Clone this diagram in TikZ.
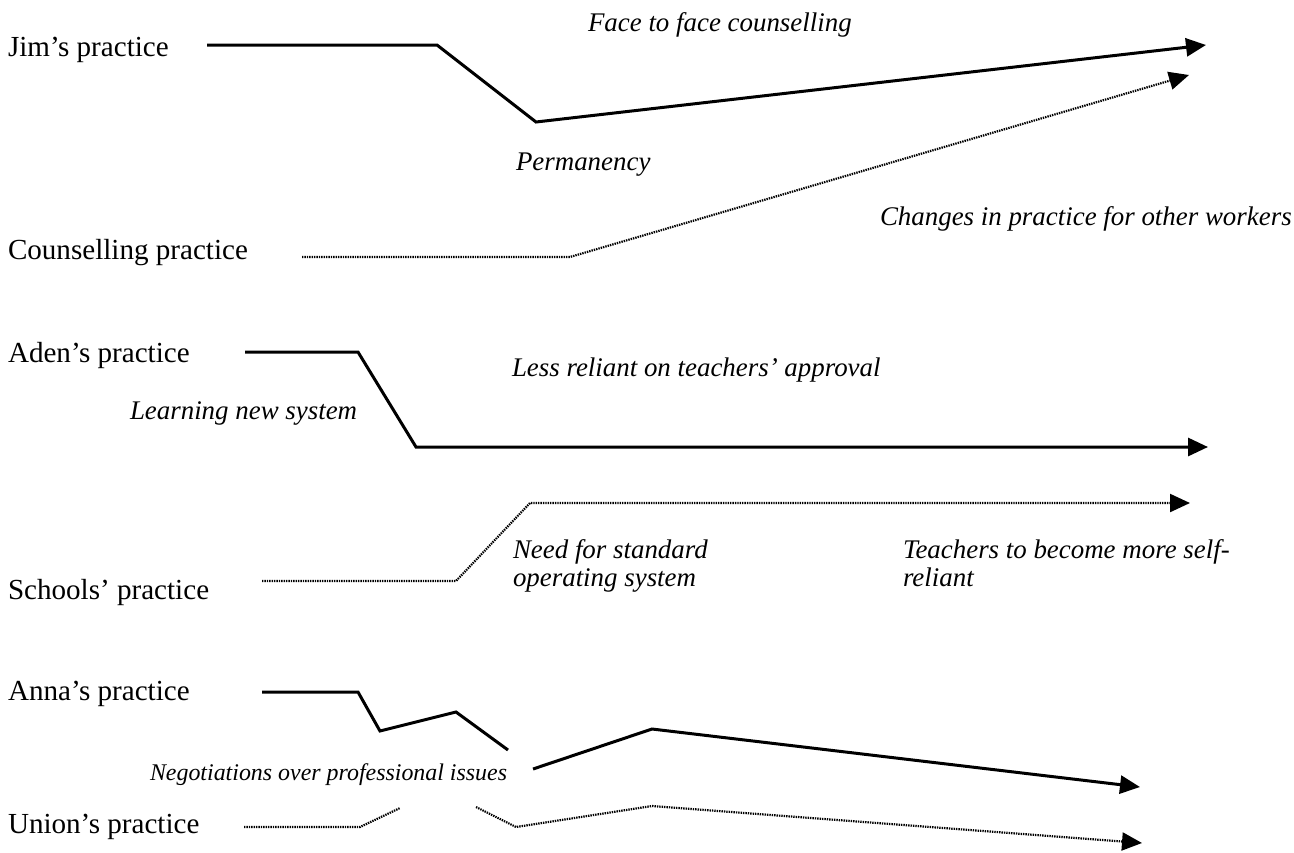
\documentclass[tikz,border=0pt]{standalone}
\usepackage{fontspec}
\setmainfont{Liberation Serif}
\usepackage{tikz}
\usetikzlibrary{arrows.meta}

\begin{document}
\begin{tikzpicture}[x=0.5bp, y=-0.5bp,
    every node/.style={inner sep=0pt, outer sep=0pt},
    practice/.style={anchor=base west, font=\fontsize{14.6}{17}\selectfont},
    change/.style={anchor=base west, align=left, font=\fontsize{13.5}{14}\selectfont\itshape},
    actual/.style={line width=1.5bp, line join=miter},
    expected/.style={line width=1.1bp, dash pattern=on 0.7bp off 0.5bp},
    tip/.style={-{Triangle[length=10bp, width=9bp]}}]
  \useasboundingbox (0,0) rectangle (1294,852);

  % practices
  \node[practice] (jim) at (8,56) {Jim’s practice};
  \node[practice] (couns) at (8,259) {Counselling practice};
  \node[practice] (aden) at (8,362) {Aden’s practice};
  \node[practice] (school) at (8,599) {Schools’ practice};
  \node[practice] (anna) at (8,700) {Anna’s practice};
  \node[practice] (union) at (8,833) {Union’s practice};

  % Jim / counselling
  \draw[actual, tip] (207,45) -- (437,45) -- (536,122) -- (1206,45);
  \draw[expected, tip] (302,257) -- (570,257) -- (1189,75);
  \node[change] (face) at (588,31) {Face to face counselling};
  \node[change] (perm) at (516,170) {Permanency};
  \node[change] (other) at (880,225) {Changes in practice for other workers};

  % Aden / schools
  \draw[actual, tip] (245,352) -- (358,352) -- (416,447) -- (1208,447);
  \draw[expected, tip] (262,581) -- (456,581) -- (530,503) -- (1190,503);
  \node[change] (less) at (512,376) {Less reliant on teachers’ approval};
  \node[change] (learn) at (130,419) {Learning new system};
  % two-line notes: base is the last line
  \node[change] (need) at (513,586) {Need for standard\\operating system};
  \node[change] (self) at (903,586) {Teachers to become more self-\\reliant};

  % Anna / union
  \draw[actual] (262,692) -- (358,692) -- (380,731) -- (456,712) -- (508,750);
  \draw[actual, tip] (533,769) -- (652,729) -- (1140,787);
  \draw[expected] (244,827) -- (360,827) -- (400,808);
  \draw[expected, tip] (476,807) -- (516,827) -- (652,806) -- (1142,843);
  \node[change, font=\fontsize{12}{14}\selectfont\itshape] (nego) at (150,780) {Negotiations over professional issues};
\end{tikzpicture}
\end{document}
